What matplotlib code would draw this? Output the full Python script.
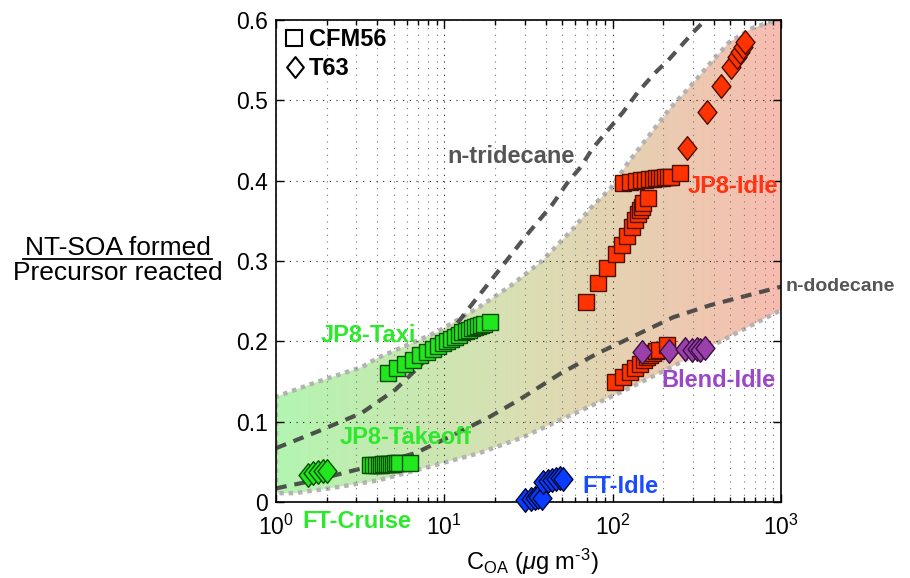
import numpy as np
import matplotlib
matplotlib.use('Agg')
import matplotlib.pyplot as plt
from matplotlib.path import Path
from matplotlib.patches import Polygon
from matplotlib.colors import LinearSegmentedColormap
from matplotlib.lines import Line2D
import matplotlib.ticker as mticker

plt.rcParams['font.family'] = ['Liberation Sans', 'DejaVu Sans']
plt.rcParams['mathtext.fontset'] = 'custom'
plt.rcParams['mathtext.rm'] = 'Liberation Sans'
plt.rcParams['mathtext.it'] = 'Liberation Sans:italic'
plt.rcParams['mathtext.bf'] = 'Liberation Sans:bold'

# ---------------- data ----------------
# CFM56 (squares)
taxi_x = [4.63, 5.24, 5.84, 6.52, 7.17, 7.89, 8.57, 9.18, 9.82, 10.4, 11.0, 11.6,
          12.2, 12.7, 13.5, 14.0, 14.6, 15.2, 15.9, 16.5, 17.2, 18.7]
taxi_y = [0.161, 0.167, 0.172, 0.177, 0.183, 0.187, 0.191, 0.194, 0.198, 0.201, 0.203, 0.206,
          0.208, 0.211, 0.213, 0.214, 0.217, 0.218, 0.219, 0.220, 0.222, 0.224]

takeoff_x = [3.62, 3.77, 3.93, 4.09, 4.21, 4.32, 4.45, 4.57, 4.69, 4.82, 4.96, 5.09, 5.24, 5.38, 6.26]
takeoff_y = [0.046, 0.046, 0.046, 0.046, 0.046, 0.047, 0.047, 0.047, 0.047, 0.047, 0.047, 0.048,
             0.048, 0.048, 0.048]

idle_top_x = [115, 127, 138, 147, 156, 165, 174, 181, 189, 197, 205, 213, 222, 251]
idle_top_y = [0.397, 0.398, 0.400, 0.401, 0.401, 0.402, 0.402, 0.403, 0.403, 0.403, 0.405, 0.405,
              0.405, 0.410]

idle_mid_x = [69.5, 81.9, 92.6, 105, 114, 122, 130, 136, 142, 146, 150, 152, 162]
idle_mid_y = [0.249, 0.273, 0.291, 0.309, 0.320, 0.331, 0.342, 0.351, 0.359, 0.364, 0.367, 0.372,
              0.379]

idle_low_x = [103, 115, 127, 136, 146, 154, 160, 167, 174, 181, 189, 211]
idle_low_y = [0.149, 0.156, 0.162, 0.167, 0.172, 0.177, 0.181, 0.183, 0.186, 0.188, 0.189, 0.196]

# T63 (diamonds)
cruise_x = [1.55, 1.66, 1.78, 1.90, 2.01]
cruise_y = [0.034, 0.036, 0.037, 0.038, 0.039]

ftidle_x = [30.2, 32.7, 34.6, 36.0, 38.0, 38.6, 41.3, 43.6, 46.1, 48.7, 50.7]
ftidle_y = [0.003, 0.004, 0.005, 0.006, 0.005, 0.025, 0.026, 0.027, 0.029, 0.030, 0.029]

jp8idle_t63_x = [277, 364, 441, 505, 548, 571, 595, 612]
jp8idle_t63_y = [0.441, 0.486, 0.518, 0.541, 0.554, 0.560, 0.567, 0.572]

blend_x = [150, 216, 269, 296, 317, 331, 354]
blend_y = [0.187, 0.188, 0.191, 0.189, 0.191, 0.189, 0.192]

# model curves
trid_x = [1.0, 1.78, 3.24, 5.13, 8.13, 11.2, 15.1, 21.4, 30.2, 43.7, 53.7, 64.6, 75.9, 95.5,
          115, 141, 178, 214, 302, 355]
trid_y = [0.067, 0.088, 0.111, 0.14, 0.181, 0.215, 0.25, 0.29, 0.33, 0.37, 0.397, 0.417, 0.44,
          0.465, 0.485, 0.51, 0.534, 0.55, 0.585, 0.6]

dodec_x = [1.0, 1.70, 3.55, 6.76, 10.7, 18.6, 28.2, 49.0, 81.3, 110, 229, 380, 1000]
dodec_y = [0.017, 0.027, 0.044, 0.061, 0.081, 0.106, 0.128, 0.16, 0.185, 0.198, 0.23, 0.245, 0.268]

band_up_x = [1.0, 1.78, 3.24, 3.98, 9.12, 16.2, 25.1, 38.0, 57.5, 74.1, 97.7, 123, 170, 219,
             288, 372, 490, 676, 933, 1000]
band_up_y = [0.131, 0.15, 0.168, 0.179, 0.212, 0.243, 0.27, 0.30, 0.339, 0.366, 0.391, 0.422,
             0.46, 0.49, 0.517, 0.544, 0.572, 0.59, 0.6, 0.603]
band_lo_x = [1.0, 1.29, 2.09, 4.07, 8.13, 16.2, 28.8, 56.2, 110, 219, 437, 1000]
band_lo_y = [0.011, 0.011, 0.017, 0.027, 0.044, 0.061, 0.08, 0.108, 0.136, 0.167, 0.2, 0.239]

ytick_vals = [0, 0.1, 0.2, 0.3, 0.4, 0.5, 0.6]
ytick_labels = ['0', '0.1', '0.2', '0.3', '0.4', '0.5', '0.6']
xtick_vals = [1, 10, 100, 1000]

# ---------------- figure ----------------
W, H = 910, 578
fig = plt.figure(figsize=(W / 100, H / 100), dpi=100)
ax = fig.add_axes([276 / W, 1 - 502 / H, 505 / W, 482 / H])
ax.set_xscale('log')
ax.set_xlim(1, 1000)
ax.set_ylim(0, 0.6)
ax.set_autoscale_on(False)

# gradient band
poly_xy = np.column_stack([np.concatenate([band_up_x, band_lo_x[::-1]]),
                           np.concatenate([band_up_y, band_lo_y[::-1]])])
poly = Polygon(poly_xy, closed=True, facecolor='none', edgecolor='none', transform=ax.transData)
ax.add_patch(poly)
cmap = LinearSegmentedColormap.from_list('band', [(0.70, 0.96, 0.69), (0.86, 0.87, 0.70),
                                                  (0.97, 0.74, 0.69)])
grad = np.linspace(0, 1, 256)[None, :]
im = ax.imshow(grad, cmap=cmap, extent=[0, 1, 0, 1], transform=ax.transAxes, aspect='auto',
               zorder=0.3, interpolation='bilinear')
im.set_clip_path(poly)

# band border (dotted gray)
border_x = list(band_up_x[::-1]) + list(band_lo_x)
border_y = list(band_up_y[::-1]) + list(band_lo_y)
ax.plot(border_x, border_y, color='#b3b3b3', lw=3.2, linestyle=(0, (1, 1.1)),
        dash_capstyle='butt', zorder=1)

# model curves
for cx, cy in [(trid_x, trid_y), (dodec_x, dodec_y)]:
    ln, = ax.plot(cx, cy, color='#3c3c3c', lw=3, alpha=0.88, zorder=2, solid_capstyle='butt')
    ln.set_dashes([2.6, 1.9])

# markers
diamond = Path([(0, 1), (0.8, 0), (0, -1), (-0.8, 0), (0, 1)],
               [Path.MOVETO, Path.LINETO, Path.LINETO, Path.LINETO, Path.CLOSEPOLY])
SQ = dict(marker='s', ms=11.2, mew=1.0, linestyle='none', zorder=4, clip_on=False)
DI = dict(marker=diamond, ms=17, mew=1.0, linestyle='none', zorder=4, clip_on=False)

green_f, green_e = '#22e61e', '#0b4d08'
red_f, red_e = '#ff3300', '#4d0f00'

ax.plot(takeoff_x, takeoff_y, mfc=green_f, mec=green_e, **SQ)
ax.plot(taxi_x, taxi_y, mfc=green_f, mec=green_e, **SQ)
ax.plot(cruise_x, cruise_y, mfc=green_f, mec=green_e, **DI)
ax.plot(ftidle_x, ftidle_y, mfc='#0a3cff', mec='#000833', **DI)
ax.plot(idle_mid_x, idle_mid_y, mfc=red_f, mec=red_e, **SQ)
ax.plot(idle_top_x, idle_top_y, mfc=red_f, mec=red_e, **SQ)
ax.plot(idle_low_x, idle_low_y, mfc=red_f, mec=red_e, **SQ)
ax.plot(blend_x, blend_y, mfc='#9a40a8', mec='#3a0f45', **DI)
ax.plot(jp8idle_t63_x, jp8idle_t63_y, mfc=red_f, mec=red_e, **DI)

# legend-like symbols
ax.plot([0.0347], [0.9627], marker='s', ms=11.5, mfc='none', mec='k', mew=1.5,
        transform=ax.transAxes, clip_on=False, zorder=5)
ax.plot([0.0376], [0.9015], marker=diamond, ms=15, mfc='none', mec='k', mew=1.5,
        transform=ax.transAxes, clip_on=False, zorder=5)
ax.text(0.0653, 0.946, 'CFM56', transform=ax.transAxes, fontsize=17, fontweight='bold',
        va='baseline', ha='left', zorder=5)
ax.text(0.0653, 0.886, 'T63', transform=ax.transAxes, fontsize=17, fontweight='bold',
        va='baseline', ha='left', zorder=5)

# annotations
lab = dict(fontsize=17, fontweight='bold', va='baseline', ha='left', zorder=6)
ax.text(10.4, 0.422, 'n-tridecane', color='#555555', **lab)
ax.text(1.0099, 0.268, 'n-dodecane', color='#555555', transform=ax.get_yaxis_transform(),
        fontsize=14, fontweight='bold', va='center', ha='left', clip_on=False)
ax.text(280, 0.385, 'JP8-Idle', color='#ff3311', **lab)
ax.text(1.83, 0.199, 'JP8-Taxi', color='#2ee82e', **lab)
ax.text(2.40, 0.0722, 'JP8-Takeoff', color='#2ee82e', **lab)
ax.text(1.436, -0.0318, 'FT-Cruise', color='#2ee82e', clip_on=False, **lab)
ax.text(65.8, 0.0112, 'FT-Idle', color='#1a4cff', **lab)
ax.text(196, 0.1432, 'Blend-Idle', color='#9a48c8', **lab)

# grid
ax.grid(True, which='major', axis='both', color='#222222', linestyle=(0, (1, 5)), lw=0.8)
ax.grid(True, which='minor', axis='x', color='#777777', linestyle=(0, (1, 5)), lw=0.8)
ax.set_axisbelow(False)
for gl in ax.get_xgridlines() + ax.get_ygridlines():
    gl.set_zorder(1.5)

# ticks
ax.set_yticks(ytick_vals)
ax.set_yticklabels(ytick_labels)
ax.yaxis.set_minor_locator(mticker.NullLocator())
ax.set_xticks(xtick_vals)
ax.xaxis.set_major_formatter(mticker.LogFormatterSciNotation())
ax.xaxis.set_minor_locator(mticker.LogLocator(base=10, subs=np.arange(2, 10)))
ax.xaxis.set_minor_formatter(mticker.NullFormatter())
ax.tick_params(which='both', direction='in', top=True, right=True, width=1.0, labelsize=16.5)
ax.tick_params(which='major', length=6)
ax.tick_params(which='minor', length=3.5)
ax.tick_params(axis='y', pad=6)
ax.tick_params(axis='x', pad=9)
for s in ax.spines.values():
    s.set_linewidth(1.2)

# axis labels
fig.text(532 / W, 1 - 570 / H, r'C$_{\mathregular{OA}}$ ($\mu$g m$^{\text{-3}}$)',
         fontsize=17, ha='center', va='baseline')
fig.text(117.5 / W, 1 - 255 / H, 'NT-SOA formed', fontsize=19, ha='center', va='baseline')
fig.text(117.5 / W, 1 - 280 / H, 'Precursor reacted', fontsize=19, ha='center', va='baseline')
fig.add_artist(Line2D([23 / W, 212 / W], [1 - 258.5 / H, 1 - 258.5 / H], color='k', lw=1.3,
                      transform=fig.transFigure))

fig.savefig('out.png', dpi=100)
